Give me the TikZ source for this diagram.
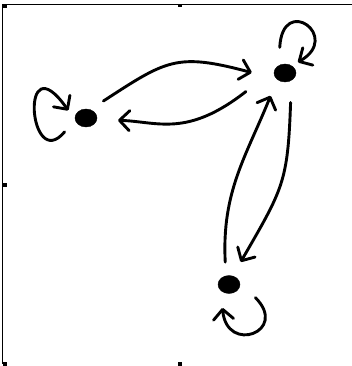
\documentclass[tikz,border=0pt]{standalone}
\usepackage{tikz}
\usetikzlibrary{arrows.meta,shapes.geometric}

\begin{document}
\begin{tikzpicture}[x=1pt,y=1pt,
  state/.style={draw,fill,ellipse,inner sep=0pt,minimum width=22pt,minimum height=18pt},
  link/.style={draw,line width=2.9pt,line cap=round,-{Straight Barb[length=10pt,width=20pt,round]}},
  frameline/.style={line width=1.2pt}]
\useasboundingbox (0,0) rectangle (352,-366);
\draw[frameline] (352,-4.5) -| (2.5,-364);
\fill (2.5,-4) rectangle (7,-8.5);
\fill (178,-4) rectangle (182,-7.5);
\fill (2.5,-183) rectangle (7,-187);
\fill (2.5,-362) rectangle (7,-366);
\fill (178,-362) rectangle (182,-366);

\node[state] (A) at (86,-118) {};
\node[state] (B) at (285,-73) {};
\node[state] (C) at (229,-284.5) {};

\draw[link,shorten <=15.6pt,shorten >=26pt] (A.63) .. controls +(33:91) and +(165:104) .. (B.218);
\draw[link,shorten <=37pt,shorten >=21pt] (B.157) .. controls +(218:112) and +(358:61) .. (A.352);
\draw[link,shorten <=22pt,shorten >=16pt] (B.310) .. controls +(268:102) and +(60:101) .. (C.67);
\draw[link,shorten <=13.6pt,shorten >=17.5pt] (C.109) .. controls +(93:84) and +(248:82.5) .. (B.220);

\draw[link,shorten <=16pt,shorten >=12pt] (A.188) .. controls +(230:72) and +(125:98) .. (A.192);
\draw[link,shorten <=18pt,shorten >=7pt] (B.129) .. controls +(87:72) and +(30:58) .. (B.47);
\draw[link,shorten <=22pt,shorten >=17pt] (C.13) .. controls +(315:70) and +(275:64) .. (C.219);
\end{tikzpicture}
\end{document}
